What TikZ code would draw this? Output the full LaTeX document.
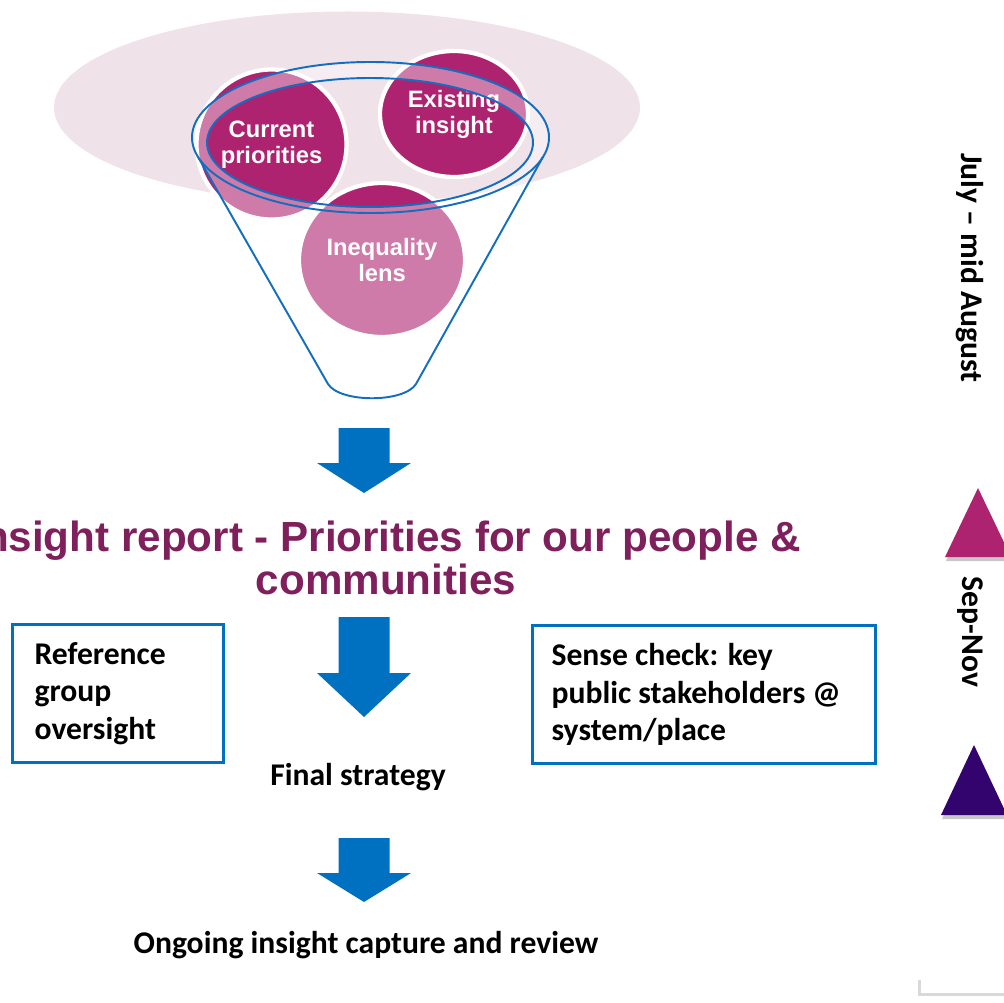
\documentclass[tikz,border=0pt]{standalone}
\usepackage{fontspec}
\setmainfont{Liberation Sans}
\newfontfamily\calibri{Carlito}
\usepackage{tikz}
\usetikzlibrary{shapes.geometric,positioning,calc}

\definecolor{bgpink}{RGB}{239,226,232}
\definecolor{deepmag}{RGB}{174,35,112}
\definecolor{titlemag}{RGB}{127,31,92}
\definecolor{funnelblue}{RGB}{20,110,192}
\definecolor{arrowblue}{RGB}{0,112,192}
\definecolor{deeppurple}{RGB}{51,3,110}

% block arrow pointing down: x, top, head base, tip
\newcommand{\blockdown}[4]{%
  \fill[arrowblue] (#1-25.5,#2) -- (#1+25.5,#2) -- (#1+25.5,#3) -- (#1+47,#3)
    -- (#1,#4) -- (#1-47,#3) -- (#1-25.5,#3) -- cycle;}

\begin{document}
\begin{tikzpicture}[
  x=0.02cm, y=-0.02cm,
  bubble/.style={ellipse, draw=white, line width=2.4pt, fill=deepmag, text=white,
    font=\bfseries\fontsize{13.5}{14.8}\selectfont, align=center, inner sep=0pt},
  boxnote/.style={draw=arrowblue, line width=1.8pt, align=flush left, anchor=north west,
    font=\calibri\bfseries\fontsize{18}{21.3}\selectfont, minimum height=2.76cm},
  plain/.style={font=\calibri\bfseries\fontsize{18}{21.6}\selectfont},
  title/.style={font=\bfseries\fontsize{24}{24.5}\selectfont, text=titlemag, align=center},
  rim/.style={draw=funnelblue, line width=1.1pt},
]
  \useasboundingbox (0,0) rectangle (1004,1003);
  \clip (0,0) rectangle (1004,1003);

  % Background and bubbles
  \fill[bgpink] (347,107.5) ellipse[x radius=293, y radius=96];
  \node[bubble, minimum width=3.0cm, minimum height=3.0cm] (cur) at (271.5,144.5) {Current\\priorities};
  \node[bubble, minimum width=2.96cm, minimum height=2.52cm] (ext) at (454,114) {Existing\\insight};
  \node[bubble, minimum width=3.32cm, minimum height=3.08cm] (ineq) at (382,260) {Inequality\\lens};

  % Funnel
  \coordinate (fc) at (370.5,137.5);
  \path (fc) ++(165:178.5 and 75.5) coordinate (fl);
  \path (fc) ++(15:178.5 and 75.5) coordinate (fr);
  \coordinate (fbl) at (328,384);
  \coordinate (fbr) at (416,384);
  \fill[white, fill opacity=0.4, even odd rule] (fl) -- (fbl)
    .. controls (340,403) and (404,403) .. (fbr) -- (fr)
    arc[start angle=15, end angle=-195, x radius=178.5, y radius=75.5] -- cycle
    (370,142.5) ellipse[x radius=163, y radius=64.5];
  \draw[rim] (fc) ellipse[x radius=178.5, y radius=75.5];
  \draw[rim] (370,142.5) ellipse[x radius=163, y radius=64.5];
  \draw[rim] (fl) -- (fbl) .. controls (340,403) and (404,403) .. (fbr) -- (fr);

  % Flow
  \blockdown{364}{428}{463}{493}
  \node[title] (report) at (386,558) {Insight report - Priorities for our people \&\\communities};
  \blockdown{364}{617}{673}{717}
  \node[boxnote, text width=3.34cm, inner xsep=0.44cm] (refgroup) at (11,623)
    {Reference\\group\\oversight};
  \node[boxnote, text width=6.1cm, inner xsep=0.38cm] (sense) at (531,624)
    {Sense check: key\\public stakeholders @\\system/place};
  \node[plain] (final) at (358,777) {Final strategy};
  \blockdown{364}{838}{873}{902}
  \node[plain] (ongoing) at (366,945) {Ongoing insight capture and review};

  % Timeline
  \node[plain, rotate=-90] (julyaug) at (970,268) {July – mid August};
  \node[plain, rotate=-90] (sepnov) at (970,632) {Sep-Nov};
  \fill[black, opacity=0.22] (979,492) -- (1013,561) -- (946,561) -- cycle;
  \fill[deepmag] (978,488) -- (1011,557) -- (945,557) -- cycle;
  \fill[black, opacity=0.22] (975,749) -- (1009,819) -- (942,819) -- cycle;
  \fill[deeppurple] (974,745) -- (1007,815) -- (941,815) -- cycle;
  \fill[black, opacity=0.15] (918,980) rectangle (1010,996);
  \fill[white] (921,976) rectangle (1010,993);
\end{tikzpicture}
\end{document}
